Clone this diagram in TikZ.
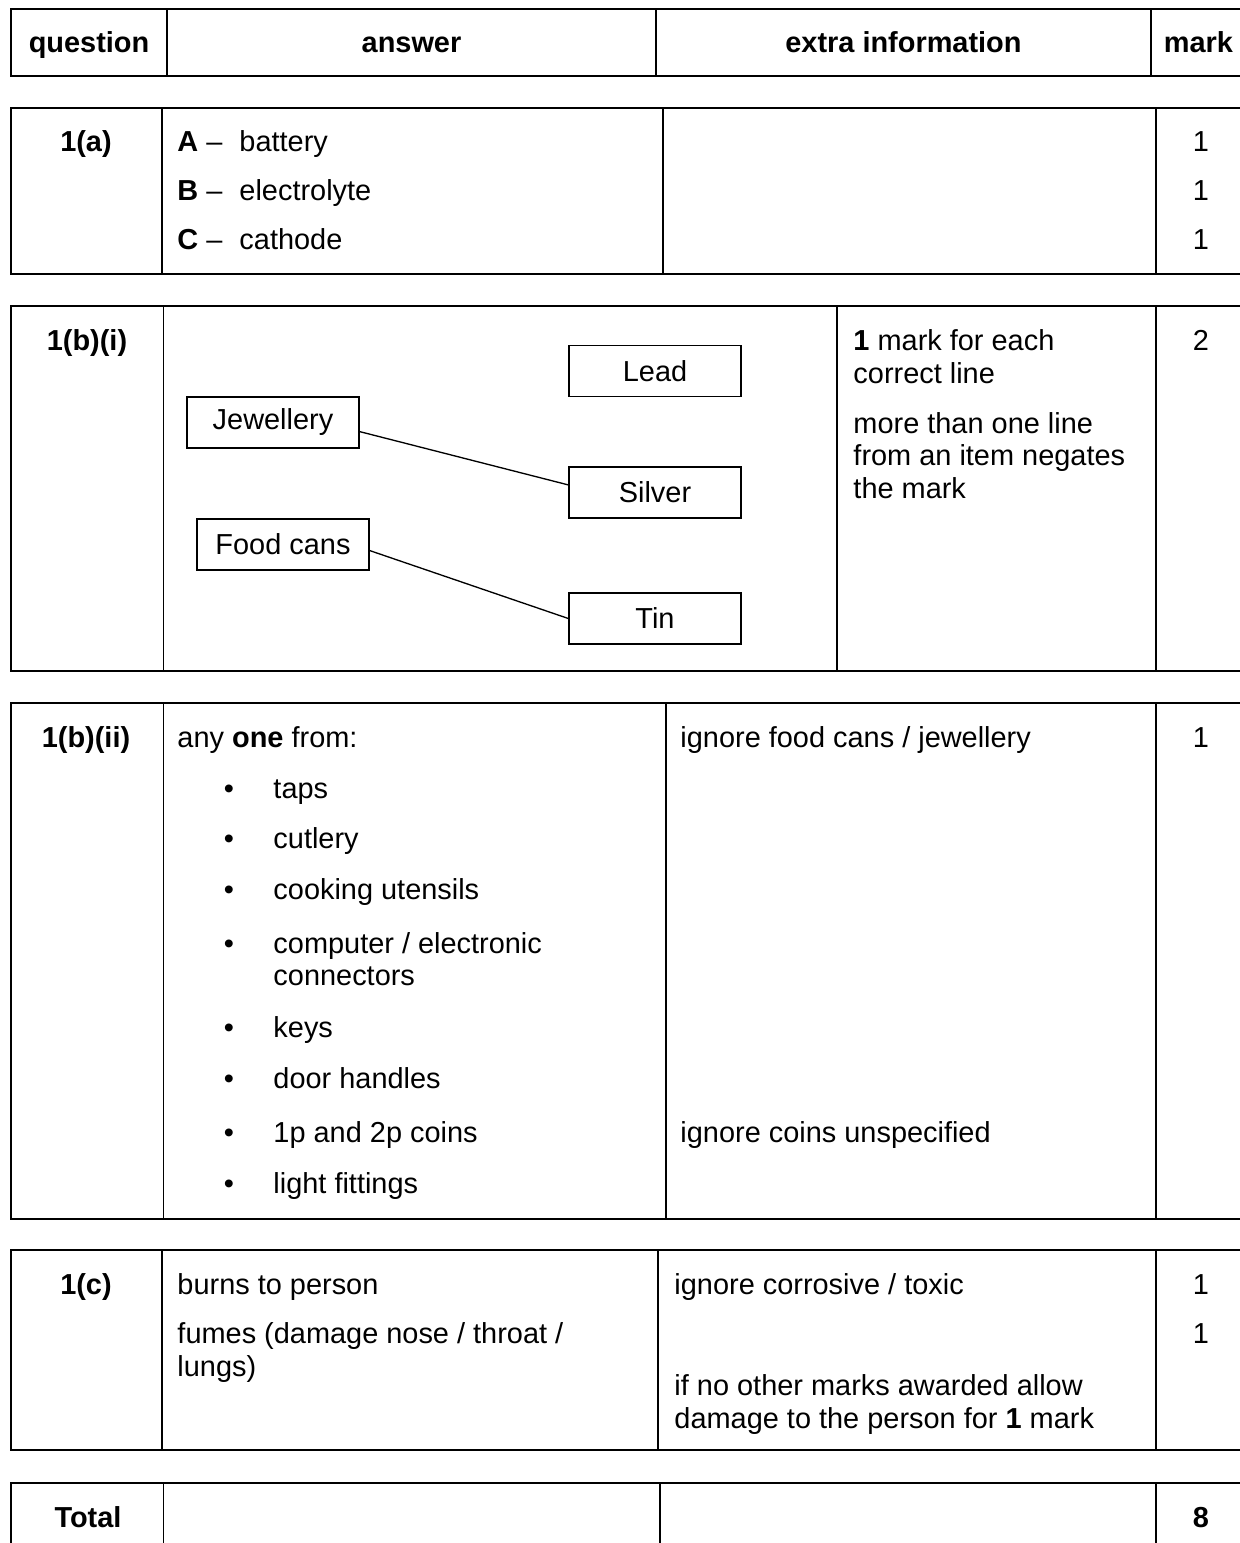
\documentclass[tikz,border=0pt]{standalone}
\usepackage{fontspec}
\setmainfont{Liberation Sans}
\usetikzlibrary{calc}

\begin{document}
\begin{tikzpicture}[x=0.415pt,y=-0.415pt,
  font=\fontsize{12}{14}\selectfont,
  lft/.style={inner sep=0pt,anchor=base west},
  ctr/.style={inner sep=0pt,anchor=base},
  hd/.style={ctr,font=\fontsize{12}{14}\selectfont\bfseries},
  frame/.style={line width=0.9pt},
  sep/.style={line width=0.55pt},
  item/.style={draw,line width=0.55pt,minimum width=71.4pt,minimum height=21.2pt,inner sep=0pt}]
  \useasboundingbox (0,0) rectangle (1239,1543);

  % header
  \draw[frame] (11,9) rectangle (1246,76);
  \foreach \c in {167,656,1151} \draw[sep] (\c,9) -- (\c,76);
  \node[hd] (hq) at (89,53) {question};
  \node[hd] (ha) at (411.5,53) {answer};
  \node[hd] (hx) at (903.5,53) {extra information};
  \node[hd] (hm) at (1198.5,53) {mark};

  % 1(a)
  \draw[frame] (11,108) rectangle (1246,274);
  \foreach \c in {162,663,1156} \draw[sep] (\c,108) -- (\c,274);
  \node[hd] (qa) at (86,152) {1(a)};
  \node[lft] (aA) at (177,152) {\textbf{A} --};
  \node[lft] (aAt) at (239,152) {battery};
  \node[lft] (aB) at (177,201) {\textbf{B} --};
  \node[lft] (aBt) at (239,201) {electrolyte};
  \node[lft] (aC) at (177,250) {\textbf{C} --};
  \node[lft] (aCt) at (239,250) {cathode};
  \node[ctr] (ma1) at (1201,152) {1};
  \node[ctr] (ma2) at (1201,201) {1};
  \node[ctr] (ma3) at (1201,250) {1};

  % 1(b)(i)
  \draw[frame] (11,306) rectangle (1246,671);
  \foreach \c in {163.5,837,1156} \draw[sep] (\c,306) -- (\c,671);
  \node[hd] (qbi) at (87,350) {1(b)(i)};
  \node[item] (lead) at (655,371) {Lead};
  \node[item] (jew) at (273,422.5) {Jewellery};
  \node[item] (silver) at (655,492.5) {Silver};
  \node[item] (food) at (283,544.5) {Food cans};
  \node[item] (tin) at (655,618.5) {Tin};
  \draw[sep] (jew.-6) -- (silver.175);
  \draw[sep] (food.-4) -- (tin.west);
  \node[lft] (xbi1) at (853,350) {\textbf{1} mark for each};
  \node[lft] (xbi2) at (853,383) {correct line};
  \node[lft] (xbi3) at (853,433) {more than one line};
  \node[lft] (xbi4) at (853,465) {from an item negates};
  \node[lft] (xbi5) at (853,498) {the mark};
  \node[ctr] (mbi) at (1201,350) {2};

  % 1(b)(ii)
  \draw[frame] (11,703) rectangle (1246,1219);
  \foreach \c in {163.5,666,1156} \draw[sep] (\c,703) -- (\c,1219);
  \node[hd] (qbii) at (86,747) {1(b)(ii)};
  \node[lft] (bii0) at (177,747) {any \textbf{one} from:};
  \foreach \y/\t [count=\i] in {798/taps,848/cutlery,899/cooking utensils,
      953/{computer / electronic},1037/keys,1088/door handles,
      1142/1p and 2p coins,1193/light fittings}{
    \node[ctr] (dot\i) at (229,\y) {•};
    \node[lft] (bii\i) at (273,\y) {\t};
  }
  \node[lft] (bii4b) at (273,985) {connectors};
  \node[lft] (xbii1) at (680,747) {ignore food cans / jewellery};
  \node[lft] (xbii2) at (680,1142) {ignore coins unspecified};
  \node[ctr] (mbii) at (1201,747) {1};

  % 1(c)
  \draw[frame] (11,1250) rectangle (1246,1450);
  \foreach \c in {162,658,1156} \draw[sep] (\c,1250) -- (\c,1450);
  \node[hd] (qc) at (86,1294) {1(c)};
  \node[lft] (c1) at (177,1294) {burns to person};
  \node[lft] (c2) at (177,1343) {fumes (damage nose / throat /};
  \node[lft] (c3) at (177,1376) {lungs)};
  \node[lft] (xc1) at (674,1294) {ignore corrosive / toxic};
  \node[lft] (xc2) at (674,1395) {if no other marks awarded allow};
  \node[lft] (xc3) at (674,1428) {damage to the person for \textbf{1} mark};
  \node[ctr] (mc1) at (1201,1294) {1};
  \node[ctr] (mc2) at (1201,1343) {1};

  % total
  \draw[frame] (11,1483) rectangle (1246,1551);
  \foreach \c in {163.5,660,1156} \draw[sep] (\c,1483) -- (\c,1551);
  \node[hd] (qt) at (88,1527) {Total};
  \node[hd] (mt) at (1201,1527) {8};
\end{tikzpicture}
\end{document}
